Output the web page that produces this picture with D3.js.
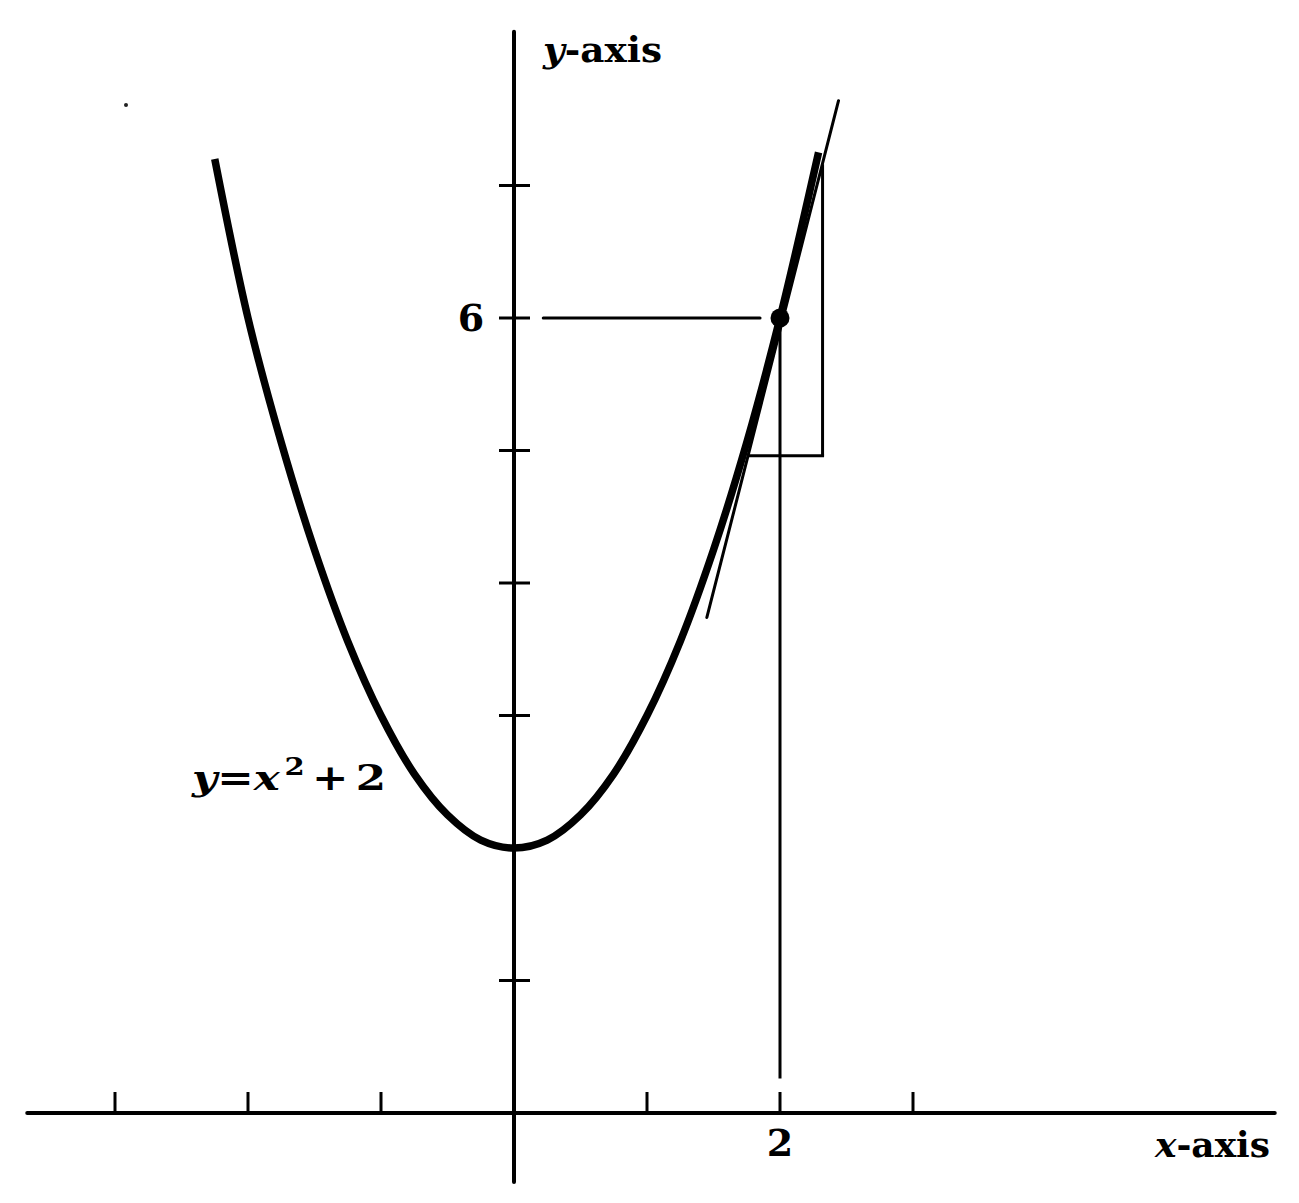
<!DOCTYPE html>
<html>
<head>
<meta charset="utf-8">
<script src="https://cdn.jsdelivr.net/npm/d3@7"></script>
<style>
  html, body { margin: 0; padding: 0; background: #fff; }
  svg { display: block; }
  text { font-family: "DejaVu Serif", "Liberation Serif", serif; font-weight: bold; fill: #000; }
</style>
</head>
<body>
<svg id="chart" width="1299" height="1203"></svg>
<script>
// ---- data ----
const curveX = [-2.25, -2.0, -1.75, -1.5, -1.25, -1.0, -0.75, -0.5, -0.25, 0, 0.25, 0.5, 0.75, 1.0, 1.25, 1.5, 1.75, 2.0, 2.29];
const curveY = [7.2, 6.0, 5.06, 4.25, 3.56, 3.0, 2.56, 2.25, 2.06, 2.0, 2.06, 2.25, 2.56, 3.0, 3.56, 4.25, 5.06, 6.0, 7.25];
const xTicks = [-3, -2, -1, 1, 2, 3];
const yTicks = [1, 3, 4, 5, 6, 7];
const xTickLabels = [{v: 2, t: "2"}];
const yTickLabels = [{v: 6, t: "6"}];
const point = {x: 2, y: 6};
const tangentX = [1.45, 2.44];
const tangentY = [3.74, 7.64];
const guideH = {y: 6, x0: 0.22, x1: 1.85};
const guideV = {x: 2, y0: 6, y1: 0.26};
const stepH = {y: 4.96, x0: 1.76, x1: 2.32};
const stepV = {x: 2.32, y0: 4.96, y1: 7.16};
const xDomain = [-3.66, 5.72];
const yDomain = [-0.52, 8.16];

// ---- scales ----
const x = d3.scaleLinear().domain([0, 1]).range([514, 647]);
const y = d3.scaleLinear().domain([0, 1]).range([1113, 980.5]);

const svg = d3.select("#chart");
const g = svg.append("g");

// axes
g.append("line")
  .attr("x1", x(xDomain[0])).attr("x2", x(xDomain[1]))
  .attr("y1", y(0)).attr("y2", y(0))
  .attr("stroke", "#000").attr("stroke-width", 4).attr("stroke-linecap", "round");
g.append("line")
  .attr("x1", x(0)).attr("x2", x(0))
  .attr("y1", y(yDomain[0])).attr("y2", y(yDomain[1]))
  .attr("stroke", "#000").attr("stroke-width", 4).attr("stroke-linecap", "round");

// x ticks (upward only)
g.selectAll(".xt").data(xTicks).enter().append("line")
  .attr("x1", d => x(d)).attr("x2", d => x(d))
  .attr("y1", y(0)).attr("y2", y(0) - 21)
  .attr("stroke", "#000").attr("stroke-width", 3);

// y ticks (both sides)
g.selectAll(".yt").data(yTicks).enter().append("line")
  .attr("x1", x(0) - 15).attr("x2", x(0) + 16)
  .attr("y1", d => y(d)).attr("y2", d => y(d))
  .attr("stroke", "#000").attr("stroke-width", 3);

// guide lines
g.append("line")
  .attr("x1", x(guideH.x0)).attr("x2", x(guideH.x1))
  .attr("y1", y(guideH.y)).attr("y2", y(guideH.y))
  .attr("stroke", "#000").attr("stroke-width", 3).attr("stroke-linecap", "round");
g.append("line")
  .attr("x1", x(guideV.x)).attr("x2", x(guideV.x))
  .attr("y1", y(guideV.y0)).attr("y2", y(guideV.y1))
  .attr("stroke", "#000").attr("stroke-width", 3);

// step (rise/run) lines
g.append("line")
  .attr("x1", x(stepH.x0)).attr("x2", x(stepH.x1) + 1.5)
  .attr("y1", y(stepH.y)).attr("y2", y(stepH.y))
  .attr("stroke", "#000").attr("stroke-width", 3);
g.append("line")
  .attr("x1", x(stepV.x)).attr("x2", x(stepV.x))
  .attr("y1", y(stepV.y0)).attr("y2", y(stepV.y1))
  .attr("stroke", "#000").attr("stroke-width", 3);

// tangent line
const line = d3.line().x(d => x(d[0])).y(d => y(d[1]));
g.append("path")
  .attr("d", line(d3.zip(tangentX, tangentY)))
  .attr("fill", "none").attr("stroke", "#000").attr("stroke-width", 3).attr("stroke-linecap", "round");

// parabola
g.append("path")
  .attr("d", line.curve(d3.curveCatmullRom.alpha(0.5))(d3.zip(curveX, curveY)))
  .attr("fill", "none").attr("stroke", "#000").attr("stroke-width", 7.5);

// point
g.append("circle")
  .attr("cx", x(point.x)).attr("cy", y(point.y)).attr("r", 9.5)
  .attr("fill", "#000");

// speck in scan
g.append("circle").attr("cx", 126).attr("cy", 105).attr("r", 2).attr("fill", "#222");

// tick labels
g.selectAll(".xl").data(xTickLabels).enter().append("text")
  .attr("x", d => x(d.v)).attr("y", y(0) + 43)
  .attr("text-anchor", "middle").attr("font-size", 38).text(d => d.t);
g.selectAll(".yl").data(yTickLabels).enter().append("text")
  .attr("x", x(0) - 43).attr("y", d => y(d.v) + 13)
  .attr("text-anchor", "middle").attr("font-size", 38).text(d => d.t);

// axis titles
const yt = g.append("text").attr("x", 543).attr("y", 62).attr("font-size", 36)
  .attr("textLength", 119).attr("lengthAdjust", "spacingAndGlyphs");
yt.append("tspan").attr("font-style", "italic").text("y");
yt.append("tspan").text("-axis");

const xt = g.append("text").attr("x", 1155).attr("y", 1157).attr("font-size", 36)
  .attr("textLength", 115).attr("lengthAdjust", "spacingAndGlyphs");
xt.append("tspan").attr("font-style", "italic").text("x");
xt.append("tspan").text("-axis");

// equation label
const eq = g.append("text").attr("x", 192).attr("y", 790).attr("font-size", 36)
  .attr("textLength", 194).attr("lengthAdjust", "spacingAndGlyphs");
eq.append("tspan").attr("font-style", "italic").text("y");
eq.append("tspan").text("=");
eq.append("tspan").attr("font-style", "italic").text("x");
eq.append("tspan").attr("dx", 4).attr("dy", -15).attr("font-size", 24).text("2");
eq.append("tspan").attr("dx", 6).attr("dy", 15).text("+");
eq.append("tspan").attr("dx", 6).text("2");
</script>
</body>
</html>
